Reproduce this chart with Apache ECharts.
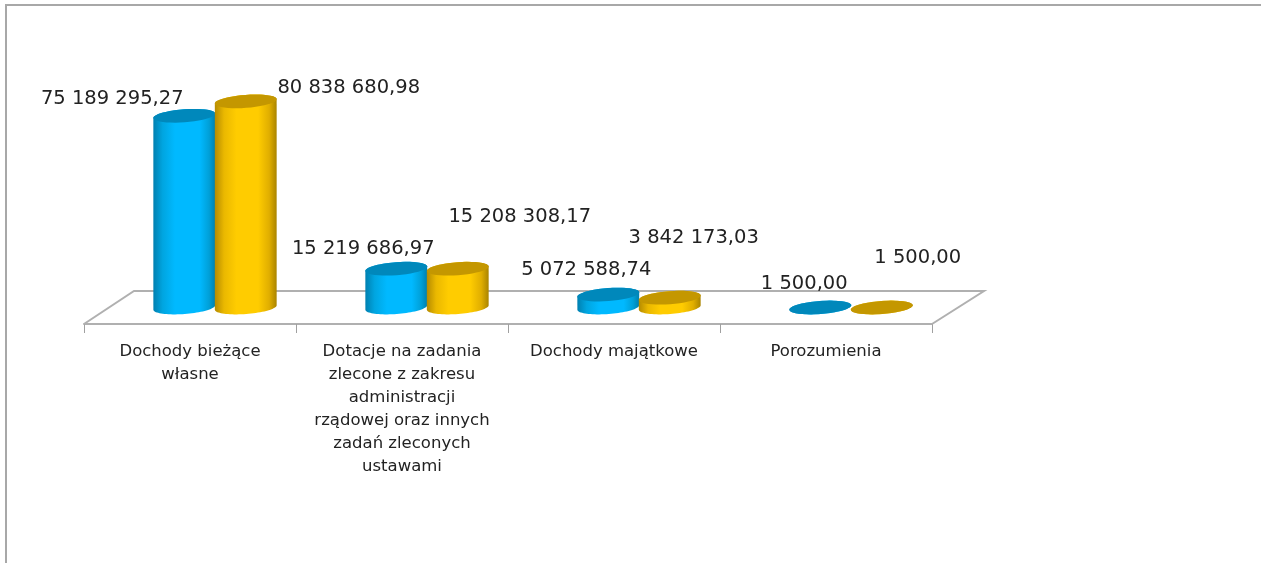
<!DOCTYPE html>
<html>
<head>
<meta charset="utf-8">
<title>Dochody</title>
<style>
  html, body { margin: 0; padding: 0; background: #fff; }
  #chart-area { width: 1261px; height: 563px; }
</style>
<script src="https://cdn.jsdelivr.net/npm/echarts@6/dist/echarts.min.js"></script>
</head>
<body>
<div id="chart-area"></div>
<script>
const categories = [
  'Dochody bieżące\nwłasne',
  'Dotacje na zadania\nzlecone z zakresu\nadministracji\nrządowej oraz innych\nzadań zleconych\nustawami',
  'Dochody majątkowe',
  'Porozumienia'
];
const blueValues = [75189295.27, 15219686.97, 5072588.74, 1500.00];
const goldValues = [80838680.98, 15208308.17, 3842173.03, 1500.00];

// where excel left each data label, relative to the top of its cylinder
const blueLabelOffsets = [[-72, -17], [-33, -20], [-22, -25], [-16, -24]];
const goldLabelOffsets = [[103, -13], [62, -52], [24, -60], [36, -50]];

const FONT = '"DejaVu Sans"';
const BACK_X = 50, BACK_Y = -33;

function formatValue(v) {
  const parts = v.toFixed(2).split('.');
  return parts[0].replace(/\B(?=(\d{3})+$)/g, ' ') + ',' + parts[1];
}

// point on a slightly tilted ellipse
function ellipsePoint(cx, cy, t) {
  const rx = 31, ry = 6.5, tilt = -0.075;
  const x = rx * Math.cos(t), y = ry * Math.sin(t);
  return [
    cx + x * Math.cos(tilt) - y * Math.sin(tilt),
    cy + x * Math.sin(tilt) + y * Math.cos(tilt)
  ];
}

function ellipsePoints(cx, cy, from, to) {
  const pts = [];
  for (let i = 0; i <= 40; i++) {
    pts.push(ellipsePoint(cx, cy, from + (to - from) * i / 40));
  }
  return pts;
}

function cylinderSeries(name, values, offsets, side, capColor, stops) {
  return {
    name: name,
    type: 'custom',
    data: values.map((v, i) => [i, v]),
    encode: { x: 0, y: 1 },
    clip: false,
    renderItem: function (params, api) {
      const i = api.value(0);
      const base = api.coord([i, 0]);
      const top = api.coord([i, api.value(1)]);
      const cx = base[0] + BACK_X / 2 + side * api.size([1, 0])[0] * 0.145;
      const yBase = base[1] + BACK_Y / 2;
      const yTop = top[1] + BACK_Y / 2;
      const body = ellipsePoints(cx, yBase, 0, Math.PI)
        .concat(ellipsePoints(cx, yTop, Math.PI, 2 * Math.PI));
      const off = offsets[i];
      return {
        type: 'group',
        children: [
          {
            type: 'polygon',
            shape: { points: body },
            style: {
              fill: new echarts.graphic.LinearGradient(0, 0, 1, 0, stops)
            }
          },
          {
            type: 'polygon',
            shape: { points: ellipsePoints(cx, yTop, 0, 2 * Math.PI) },
            style: { fill: capColor }
          },
          {
            type: 'text',
            style: {
              x: cx + off[0],
              y: yTop + off[1],
              text: formatValue(api.value(1)),
              fill: '#222',
              font: '19.5px ' + FONT,
              align: 'center',
              verticalAlign: 'middle'
            }
          }
        ]
      };
    }
  };
}

const myChart = echarts.init(document.getElementById('chart-area'));
const option = {
  animation: false,
  backgroundColor: '#fff',
  graphic: [
    {
      type: 'polyline',
      shape: { points: [[6, 600], [6, 5], [1300, 5]] },
      style: { stroke: '#a8a8a8', lineWidth: 2, fill: null }
    }
  ],
  grid: { left: 84, top: 69, width: 848, height: 255 },
  xAxis: {
    type: 'category',
    data: categories,
    axisLine: { lineStyle: { color: '#b0b0b0', width: 2 } },
    axisTick: { show: true, length: 9, lineStyle: { color: '#a0a0a0', width: 1 } },
    axisLabel: {
      interval: 0,
      margin: 16,
      color: '#222',
      fontFamily: FONT,
      fontSize: 16.5,
      lineHeight: 23,
      align: 'center'
    }
  },
  yAxis: { type: 'value', min: 0, max: 100000000, show: false },
  series: [
    {
      // floor of the 3d plot, behind the cylinders
      type: 'custom',
      data: [0],
      silent: true,
      clip: false,
      renderItem: function (params) {
        const g = params.coordSys;
        const y = g.y + g.height;
        return {
          type: 'polyline',
          shape: {
            points: [
              [g.x, y],
              [g.x + BACK_X, y + BACK_Y],
              [g.x + g.width + BACK_X + 2, y + BACK_Y],
              [g.x + g.width, y]
            ]
          },
          style: { stroke: '#b0b0b0', lineWidth: 2, fill: null }
        };
      }
    },
    cylinderSeries('Blue', blueValues, blueLabelOffsets, -1, '#0088bb', [
      { offset: 0, color: '#0080b0' },
      { offset: 0.15, color: '#00a5e0' },
      { offset: 0.35, color: '#00b9ff' },
      { offset: 0.75, color: '#00b9ff' },
      { offset: 0.9, color: '#00a0d8' },
      { offset: 1, color: '#0080ae' }
    ]),
    cylinderSeries('Gold', goldValues, goldLabelOffsets, 1, '#c49700', [
      { offset: 0, color: '#b58b00' },
      { offset: 0.15, color: '#eab800' },
      { offset: 0.35, color: '#ffcc00' },
      { offset: 0.7, color: '#ffcc00' },
      { offset: 0.88, color: '#e0ae00' },
      { offset: 1, color: '#aa8400' }
    ])
  ]
};
myChart.setOption(option);
</script>
</body>
</html>
